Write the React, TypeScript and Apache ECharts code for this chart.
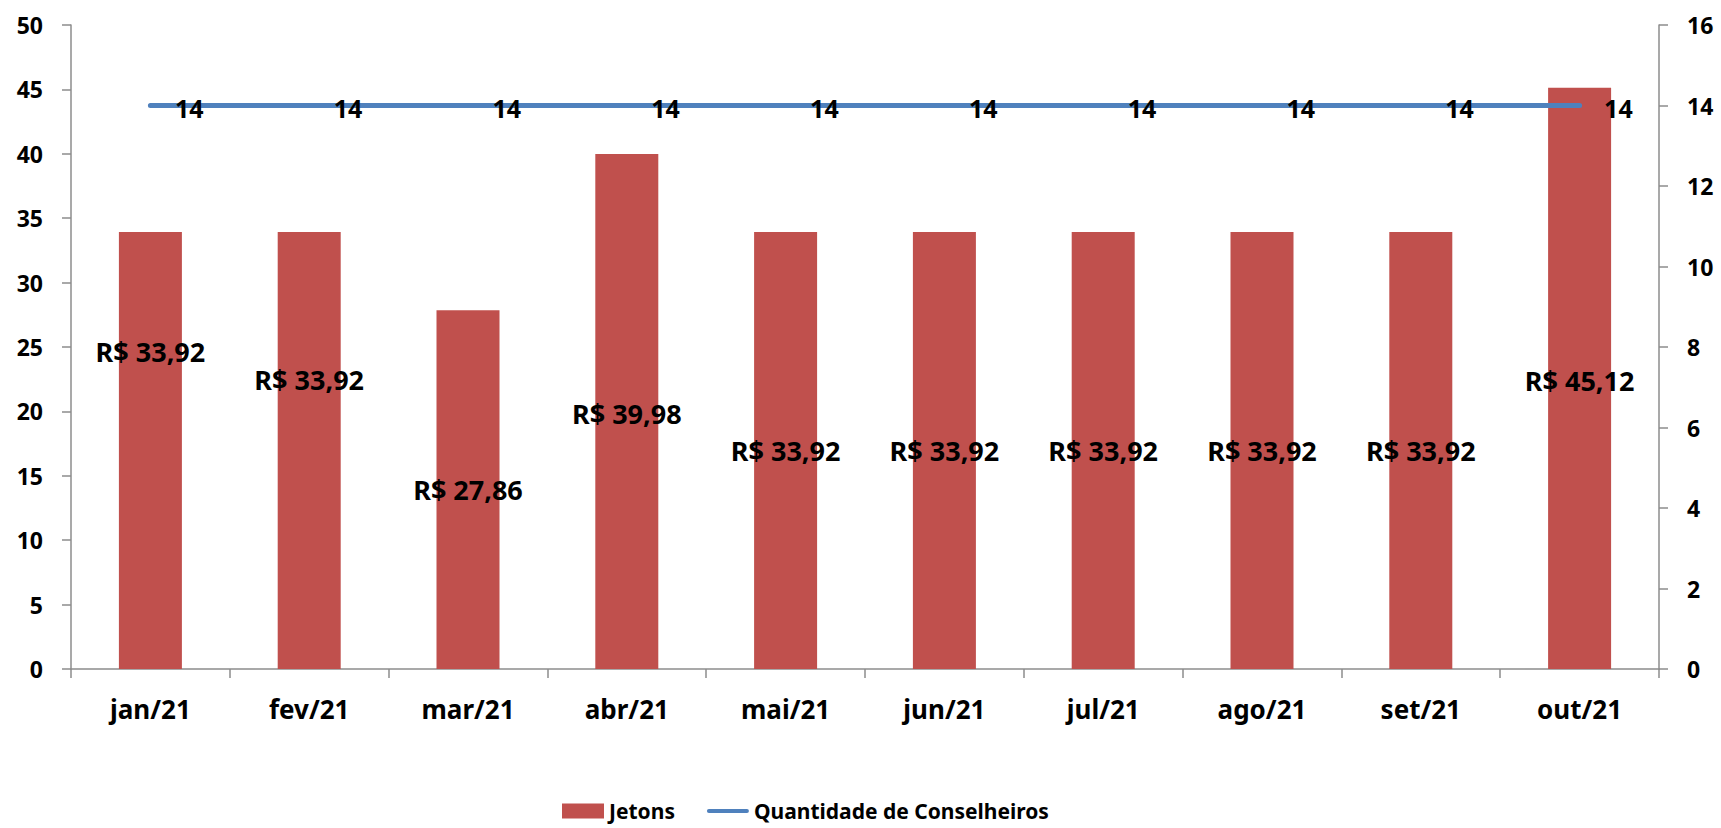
import React, { useEffect, useRef } from "react";
import * as echarts from "echarts";

const categories = ["jan/21", "fev/21", "mar/21", "abr/21", "mai/21", "jun/21", "jul/21", "ago/21", "set/21", "out/21"];
const jetons = [33.92, 33.92, 27.86, 39.98, 33.92, 33.92, 33.92, 33.92, 33.92, 45.12];
const conselheiros = [14, 14, 14, 14, 14, 14, 14, 14, 14, 14];
const leftTicks = { min: 0, max: 50, interval: 5 };
const rightTicks = { min: 0, max: 16, interval: 2 };

// style-only: vertical label shifts (px) for manually moved labels
const barLabelShift = [-99, -71, 0, 2, 0, 0, 0, 0, 0, 2];

const FONT = "'Noto Sans', 'Open Sans', sans-serif";
const BAR_COLOR = "#C0504D";
const LINE_COLOR = "#4F81BD";
const AXIS_COLOR = "#8C8C8C";

export default function App() {
  const ref = useRef<HTMLDivElement>(null);
  useEffect(() => {
    if (!ref.current) return;
    const chart = echarts.init(ref.current, undefined, { renderer: "svg" });
    const axisLine = { show: true, lineStyle: { color: AXIS_COLOR, width: 1.5 } };
    const axisTick = { show: true, length: 9, lineStyle: { color: AXIS_COLOR, width: 1.5 } };
    chart.setOption({
      animation: false,
      backgroundColor: "#ffffff",
      textStyle: { fontFamily: FONT },
      grid: { left: 71, right: 62, top: 25, bottom: 159, containLabel: false },
      legend: {
        left: 562,
        top: 800,
        padding: 0,
        itemWidth: 42,
        itemHeight: 15,
        itemGap: 32,
        textStyle: { fontFamily: FONT, fontWeight: "bold", fontSize: 21, lineHeight: 22, color: "#000" },
        data: [
          { name: "Jetons", icon: "rect" },
          {
            name: "Quantidade de Conselheiros",
            icon: "path://M2,0 L40,0 A2,2 0 0 1 40,4 L2,4 A2,2 0 0 1 2,0 Z",
          },
        ],
      },
      xAxis: {
        type: "category",
        data: categories,
        axisLine,
        axisTick: { ...axisTick, alignWithLabel: false },
        axisLabel: { margin: 27, fontFamily: FONT, fontWeight: "bold", fontSize: 26, color: "#000" },
        splitLine: { show: false },
      },
      yAxis: [
        {
          type: "value",
          ...leftTicks,
          axisLine,
          axisTick,
          axisLabel: { margin: 28, fontFamily: FONT, fontWeight: "bold", fontSize: 23, color: "#000" },
          splitLine: { show: false },
        },
        {
          type: "value",
          position: "right",
          ...rightTicks,
          axisLine,
          axisTick,
          axisLabel: { margin: 28, fontFamily: FONT, fontWeight: "bold", fontSize: 23, color: "#000" },
          splitLine: { show: false },
        },
      ],
      series: [
        {
          name: "Jetons",
          type: "bar",
          yAxisIndex: 0,
          barWidth: 63,
          itemStyle: { color: BAR_COLOR },
          data: jetons.map((v, i) => ({
            value: v,
            label: { offset: [0, barLabelShift[i]] },
          })),
          label: {
            show: true,
            position: "inside",
            fontFamily: FONT,
            fontWeight: "bold",
            fontSize: 27,
            color: "#000",
            formatter: (p: any) => "R$ " + Number(p.value).toFixed(2).replace(".", ","),
          },
        },
        {
          name: "Quantidade de Conselheiros",
          type: "line",
          yAxisIndex: 1,
          data: conselheiros,
          symbol: "circle",
          symbolSize: 1,
          showSymbol: true,
          lineStyle: { color: LINE_COLOR, width: 5, cap: "round" },
          itemStyle: { color: LINE_COLOR },
          label: {
            show: true,
            position: "right",
            distance: 24,
            offset: [0, 2],
            fontFamily: FONT,
            fontWeight: "bold",
            fontSize: 25,
            color: "#000",
          },
        },
      ],
    });
    return () => chart.dispose();
  }, []);
  return <div ref={ref} style={{ position: "absolute", left: 0, top: 0, width: 1721, height: 828 }} />;
}
